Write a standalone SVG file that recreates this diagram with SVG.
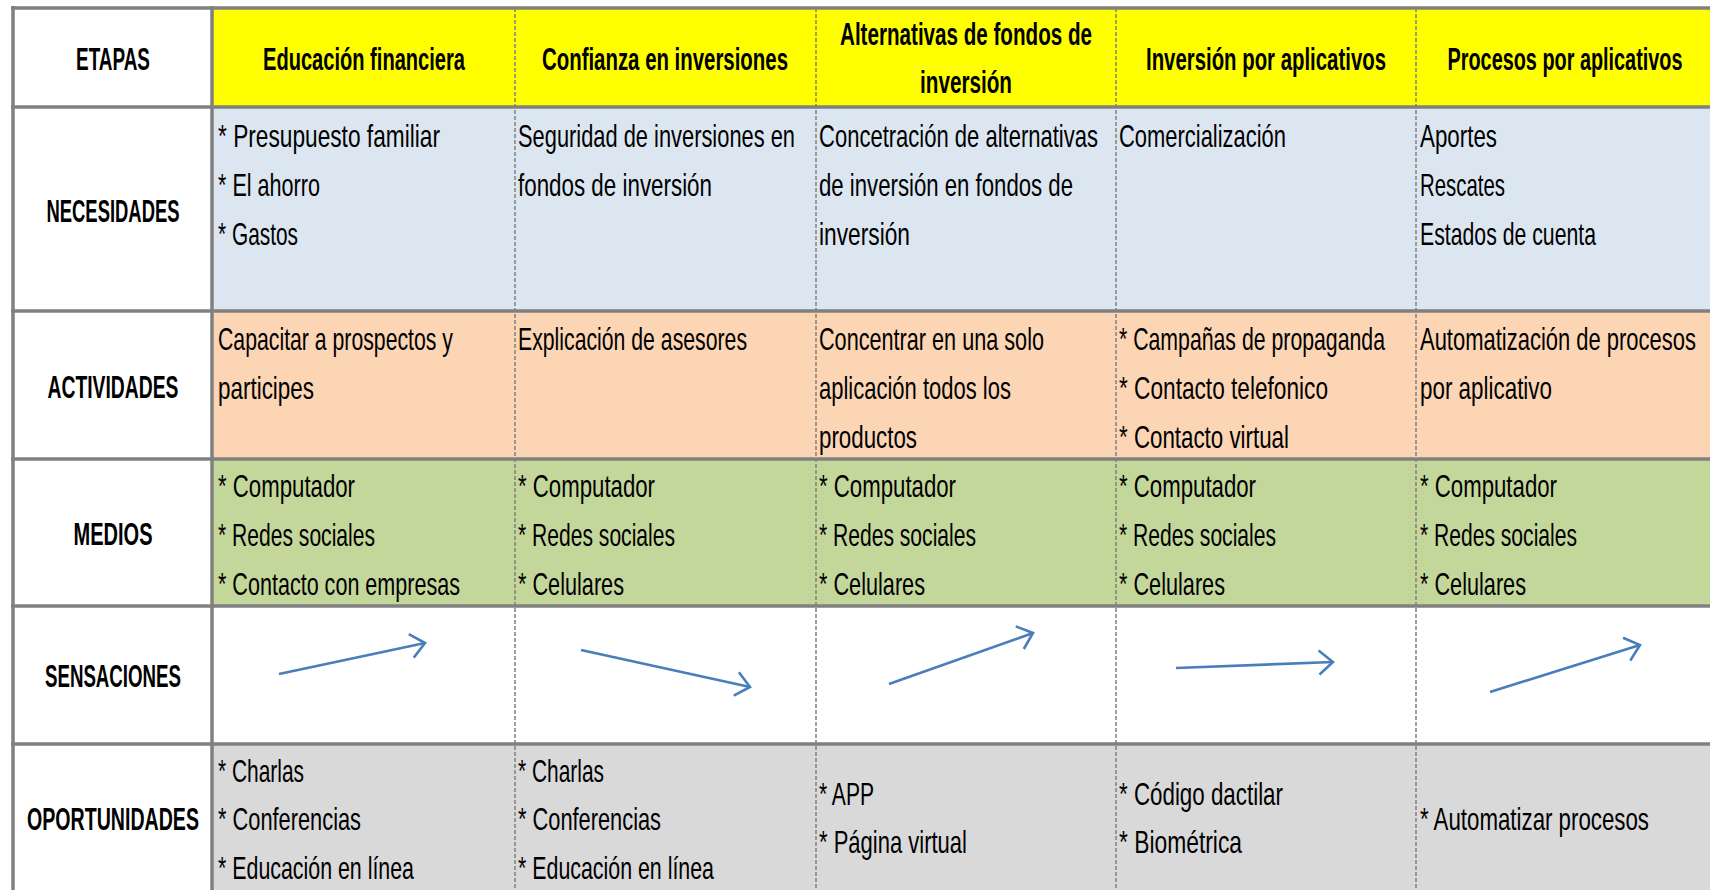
<svg xmlns="http://www.w3.org/2000/svg" width="1710" height="890" viewBox="0 0 1710 890">
<style>
.t{font-family:"Liberation Sans Narrow","Liberation Sans",Arial,sans-serif;font-size:27.3px;fill:#000;transform-box:fill-box;transform-origin:0 81%;transform:scaleY(1.17)}
.b{font-family:"Liberation Sans Narrow","Liberation Sans",Arial,sans-serif;font-size:24.8px;font-weight:bold;fill:#000;text-anchor:middle;transform-box:fill-box;transform-origin:50% 81%;transform:scaleY(1.23)}
.hd{fill:#FFFF00}.ne{fill:#DCE6F1}.ac{fill:#FCD5B4}.me{fill:#C4D79B}.se{fill:#FFFFFF}.op{fill:#D9D9D9}.wh{fill:#FFFFFF}
.thick{stroke:#808080;stroke-width:3.5;fill:none}
.dash{stroke:#808080;stroke-width:1.5;stroke-dasharray:4 2;fill:none}
.arr{stroke:#4A7EBB;stroke-width:2.6;fill:none;marker-end:url(#ah)}
</style>
<defs>
<marker id="ah" markerUnits="userSpaceOnUse" markerWidth="40" markerHeight="40" viewBox="-20 -20 40 40" refX="0" refY="0" orient="auto">
<path d="M-14,-12 L0,0 L-14,12" fill="none" stroke="#4A7EBB" stroke-width="2.6"/>
</marker>
</defs>
<rect x="0" y="0" width="1710" height="890" fill="#FFFFFF"/>

<!-- Header row -->
<g id="h-etapas"><rect class="wh" x="13" y="8" width="199" height="99"/><text class="b" x="113" y="70" textLength="74" lengthAdjust="spacingAndGlyphs">ETAPAS</text></g>
<g id="h-educacion"><rect class="hd" x="212" y="8" width="303" height="99"/><text class="b" x="364" y="70" textLength="202" lengthAdjust="spacingAndGlyphs">Educación financiera</text></g>
<g id="h-confianza"><rect class="hd" x="515" y="8" width="301" height="99"/><text class="b" x="665" y="70" textLength="246" lengthAdjust="spacingAndGlyphs">Confianza en inversiones</text></g>
<g id="h-alternativas"><rect class="hd" x="816" y="8" width="300" height="99"/><text class="b" x="966" y="45" textLength="252" lengthAdjust="spacingAndGlyphs">Alternativas de fondos de</text><text class="b" x="966" y="93" textLength="92" lengthAdjust="spacingAndGlyphs">inversión</text></g>
<g id="h-inversion"><rect class="hd" x="1116" y="8" width="300" height="99"/><text class="b" x="1266" y="70" textLength="240" lengthAdjust="spacingAndGlyphs">Inversión por aplicativos</text></g>
<g id="h-procesos"><rect class="hd" x="1416" y="8" width="298" height="99"/><text class="b" x="1565" y="70" textLength="235" lengthAdjust="spacingAndGlyphs">Procesos por aplicativos</text></g>

<!-- NECESIDADES -->
<g id="l-necesidades"><rect class="wh" x="13" y="107" width="199" height="204"/><text class="b" x="113" y="222" textLength="133" lengthAdjust="spacingAndGlyphs">NECESIDADES</text></g>
<g id="nec-1"><rect class="ne" x="212" y="107" width="303" height="204"/>
<text class="t" x="218" y="147" textLength="222" lengthAdjust="spacingAndGlyphs">* Presupuesto familiar</text>
<text class="t" x="218" y="196" textLength="102" lengthAdjust="spacingAndGlyphs">* El ahorro</text>
<text class="t" x="218" y="245" textLength="80" lengthAdjust="spacingAndGlyphs">* Gastos</text></g>
<g id="nec-2"><rect class="ne" x="515" y="107" width="301" height="204"/>
<text class="t" x="518" y="147" textLength="277" lengthAdjust="spacingAndGlyphs">Seguridad de inversiones en</text>
<text class="t" x="518" y="196" textLength="194" lengthAdjust="spacingAndGlyphs">fondos de inversión</text></g>
<g id="nec-3"><rect class="ne" x="816" y="107" width="300" height="204"/>
<text class="t" x="819" y="147" textLength="279" lengthAdjust="spacingAndGlyphs">Concetración de alternativas</text>
<text class="t" x="819" y="196" textLength="254" lengthAdjust="spacingAndGlyphs">de inversión en fondos de</text>
<text class="t" x="819" y="245" textLength="91" lengthAdjust="spacingAndGlyphs">inversión</text></g>
<g id="nec-4"><rect class="ne" x="1116" y="107" width="300" height="204"/>
<text class="t" x="1119" y="147" textLength="167" lengthAdjust="spacingAndGlyphs">Comercialización</text></g>
<g id="nec-5"><rect class="ne" x="1416" y="107" width="298" height="204"/>
<text class="t" x="1420" y="147" textLength="77" lengthAdjust="spacingAndGlyphs">Aportes</text>
<text class="t" x="1420" y="196" textLength="85" lengthAdjust="spacingAndGlyphs">Rescates</text>
<text class="t" x="1420" y="245" textLength="176" lengthAdjust="spacingAndGlyphs">Estados de cuenta</text></g>

<!-- ACTIVIDADES -->
<g id="l-actividades"><rect class="wh" x="13" y="311" width="199" height="148"/><text class="b" x="113" y="398" textLength="131" lengthAdjust="spacingAndGlyphs">ACTIVIDADES</text></g>
<g id="act-1"><rect class="ac" x="212" y="311" width="303" height="148"/>
<text class="t" x="218" y="350" textLength="235" lengthAdjust="spacingAndGlyphs">Capacitar a prospectos y</text>
<text class="t" x="218" y="399" textLength="96" lengthAdjust="spacingAndGlyphs">participes</text></g>
<g id="act-2"><rect class="ac" x="515" y="311" width="301" height="148"/>
<text class="t" x="518" y="350" textLength="229" lengthAdjust="spacingAndGlyphs">Explicación de asesores</text></g>
<g id="act-3"><rect class="ac" x="816" y="311" width="300" height="148"/>
<text class="t" x="819" y="350" textLength="225" lengthAdjust="spacingAndGlyphs">Concentrar en una solo</text>
<text class="t" x="819" y="399" textLength="192" lengthAdjust="spacingAndGlyphs">aplicación todos los</text>
<text class="t" x="819" y="448" textLength="98" lengthAdjust="spacingAndGlyphs">productos</text></g>
<g id="act-4"><rect class="ac" x="1116" y="311" width="300" height="148"/>
<text class="t" x="1119" y="350" textLength="266" lengthAdjust="spacingAndGlyphs">* Campañas de propaganda</text>
<text class="t" x="1119" y="399" textLength="209" lengthAdjust="spacingAndGlyphs">* Contacto telefonico</text>
<text class="t" x="1119" y="448" textLength="170" lengthAdjust="spacingAndGlyphs">* Contacto virtual</text></g>
<g id="act-5"><rect class="ac" x="1416" y="311" width="298" height="148"/>
<text class="t" x="1420" y="350" textLength="276" lengthAdjust="spacingAndGlyphs">Automatización de procesos</text>
<text class="t" x="1420" y="399" textLength="132" lengthAdjust="spacingAndGlyphs">por aplicativo</text></g>

<!-- MEDIOS -->
<g id="l-medios"><rect class="wh" x="13" y="459" width="199" height="147"/><text class="b" x="113" y="545" textLength="79" lengthAdjust="spacingAndGlyphs">MEDIOS</text></g>
<g id="med-1"><rect class="me" x="212" y="459" width="303" height="147"/>
<text class="t" x="218" y="497" textLength="137" lengthAdjust="spacingAndGlyphs">* Computador</text>
<text class="t" x="218" y="546" textLength="157" lengthAdjust="spacingAndGlyphs">* Redes sociales</text>
<text class="t" x="218" y="595" textLength="242" lengthAdjust="spacingAndGlyphs">* Contacto con empresas</text></g>
<g id="med-2"><rect class="me" x="515" y="459" width="301" height="147"/>
<text class="t" x="518" y="497" textLength="137" lengthAdjust="spacingAndGlyphs">* Computador</text>
<text class="t" x="518" y="546" textLength="157" lengthAdjust="spacingAndGlyphs">* Redes sociales</text>
<text class="t" x="518" y="595" textLength="106" lengthAdjust="spacingAndGlyphs">* Celulares</text></g>
<g id="med-3"><rect class="me" x="816" y="459" width="300" height="147"/>
<text class="t" x="819" y="497" textLength="137" lengthAdjust="spacingAndGlyphs">* Computador</text>
<text class="t" x="819" y="546" textLength="157" lengthAdjust="spacingAndGlyphs">* Redes sociales</text>
<text class="t" x="819" y="595" textLength="106" lengthAdjust="spacingAndGlyphs">* Celulares</text></g>
<g id="med-4"><rect class="me" x="1116" y="459" width="300" height="147"/>
<text class="t" x="1119" y="497" textLength="137" lengthAdjust="spacingAndGlyphs">* Computador</text>
<text class="t" x="1119" y="546" textLength="157" lengthAdjust="spacingAndGlyphs">* Redes sociales</text>
<text class="t" x="1119" y="595" textLength="106" lengthAdjust="spacingAndGlyphs">* Celulares</text></g>
<g id="med-5"><rect class="me" x="1416" y="459" width="298" height="147"/>
<text class="t" x="1420" y="497" textLength="137" lengthAdjust="spacingAndGlyphs">* Computador</text>
<text class="t" x="1420" y="546" textLength="157" lengthAdjust="spacingAndGlyphs">* Redes sociales</text>
<text class="t" x="1420" y="595" textLength="106" lengthAdjust="spacingAndGlyphs">* Celulares</text></g>

<!-- SENSACIONES -->
<g id="l-sensaciones"><rect class="wh" x="13" y="606" width="199" height="138"/><text class="b" x="113" y="687" textLength="136" lengthAdjust="spacingAndGlyphs">SENSACIONES</text></g>
<g id="sen-cells">
<rect class="se" x="212" y="606" width="1502" height="138"/>
</g>

<!-- OPORTUNIDADES -->
<g id="l-oportunidades"><rect class="wh" x="13" y="744" width="199" height="160"/><text class="b" x="113" y="830" textLength="172" lengthAdjust="spacingAndGlyphs">OPORTUNIDADES</text></g>
<g id="op-1"><rect class="op" x="212" y="744" width="303" height="160"/>
<text class="t" x="218" y="782" textLength="86" lengthAdjust="spacingAndGlyphs">* Charlas</text>
<text class="t" x="218" y="830" textLength="143" lengthAdjust="spacingAndGlyphs">* Conferencias</text>
<text class="t" x="218" y="879" textLength="196" lengthAdjust="spacingAndGlyphs">* Educación en línea</text></g>
<g id="op-2"><rect class="op" x="515" y="744" width="301" height="160"/>
<text class="t" x="518" y="782" textLength="86" lengthAdjust="spacingAndGlyphs">* Charlas</text>
<text class="t" x="518" y="830" textLength="143" lengthAdjust="spacingAndGlyphs">* Conferencias</text>
<text class="t" x="518" y="879" textLength="196" lengthAdjust="spacingAndGlyphs">* Educación en línea</text></g>
<g id="op-3"><rect class="op" x="816" y="744" width="300" height="160"/>
<text class="t" x="819" y="805" textLength="55" lengthAdjust="spacingAndGlyphs">* APP</text>
<text class="t" x="819" y="853" textLength="148" lengthAdjust="spacingAndGlyphs">* Página virtual</text></g>
<g id="op-4"><rect class="op" x="1116" y="744" width="300" height="160"/>
<text class="t" x="1119" y="805" textLength="164" lengthAdjust="spacingAndGlyphs">* Código dactilar</text>
<text class="t" x="1119" y="853" textLength="123" lengthAdjust="spacingAndGlyphs">* Biométrica</text></g>
<g id="op-5"><rect class="op" x="1416" y="744" width="298" height="160"/>
<text class="t" x="1420" y="830" textLength="229" lengthAdjust="spacingAndGlyphs">* Automatizar procesos</text></g>

<!-- grid lines -->
<g id="grid">
<line class="dash" x1="515" y1="8" x2="515" y2="904"/>
<line class="dash" x1="816" y1="8" x2="816" y2="904"/>
<line class="dash" x1="1116" y1="8" x2="1116" y2="904"/>
<line class="dash" x1="1416" y1="8" x2="1416" y2="904"/>
<line class="thick" x1="11" y1="8" x2="1716" y2="8"/>
<line class="thick" x1="13" y1="6" x2="13" y2="904"/>
<line class="thick" x1="212" y1="6" x2="212" y2="904"/>
<line class="thick" x1="11" y1="107" x2="1716" y2="107"/>
<line class="thick" x1="11" y1="311" x2="1716" y2="311"/>
<line class="thick" x1="11" y1="459" x2="1716" y2="459"/>
<line class="thick" x1="11" y1="606" x2="1716" y2="606"/>
<line class="thick" x1="11" y1="744" x2="1716" y2="744"/>
</g>

<!-- arrows -->
<g id="connectors">
<line class="arr" x1="279" y1="674" x2="425" y2="643"/>
<line class="arr" x1="581" y1="650" x2="750" y2="687"/>
<line class="arr" x1="889" y1="684" x2="1033" y2="633"/>
<line class="arr" x1="1176" y1="668" x2="1333" y2="662"/>
<line class="arr" x1="1490" y1="692" x2="1640" y2="645"/>
</g>
</svg>
